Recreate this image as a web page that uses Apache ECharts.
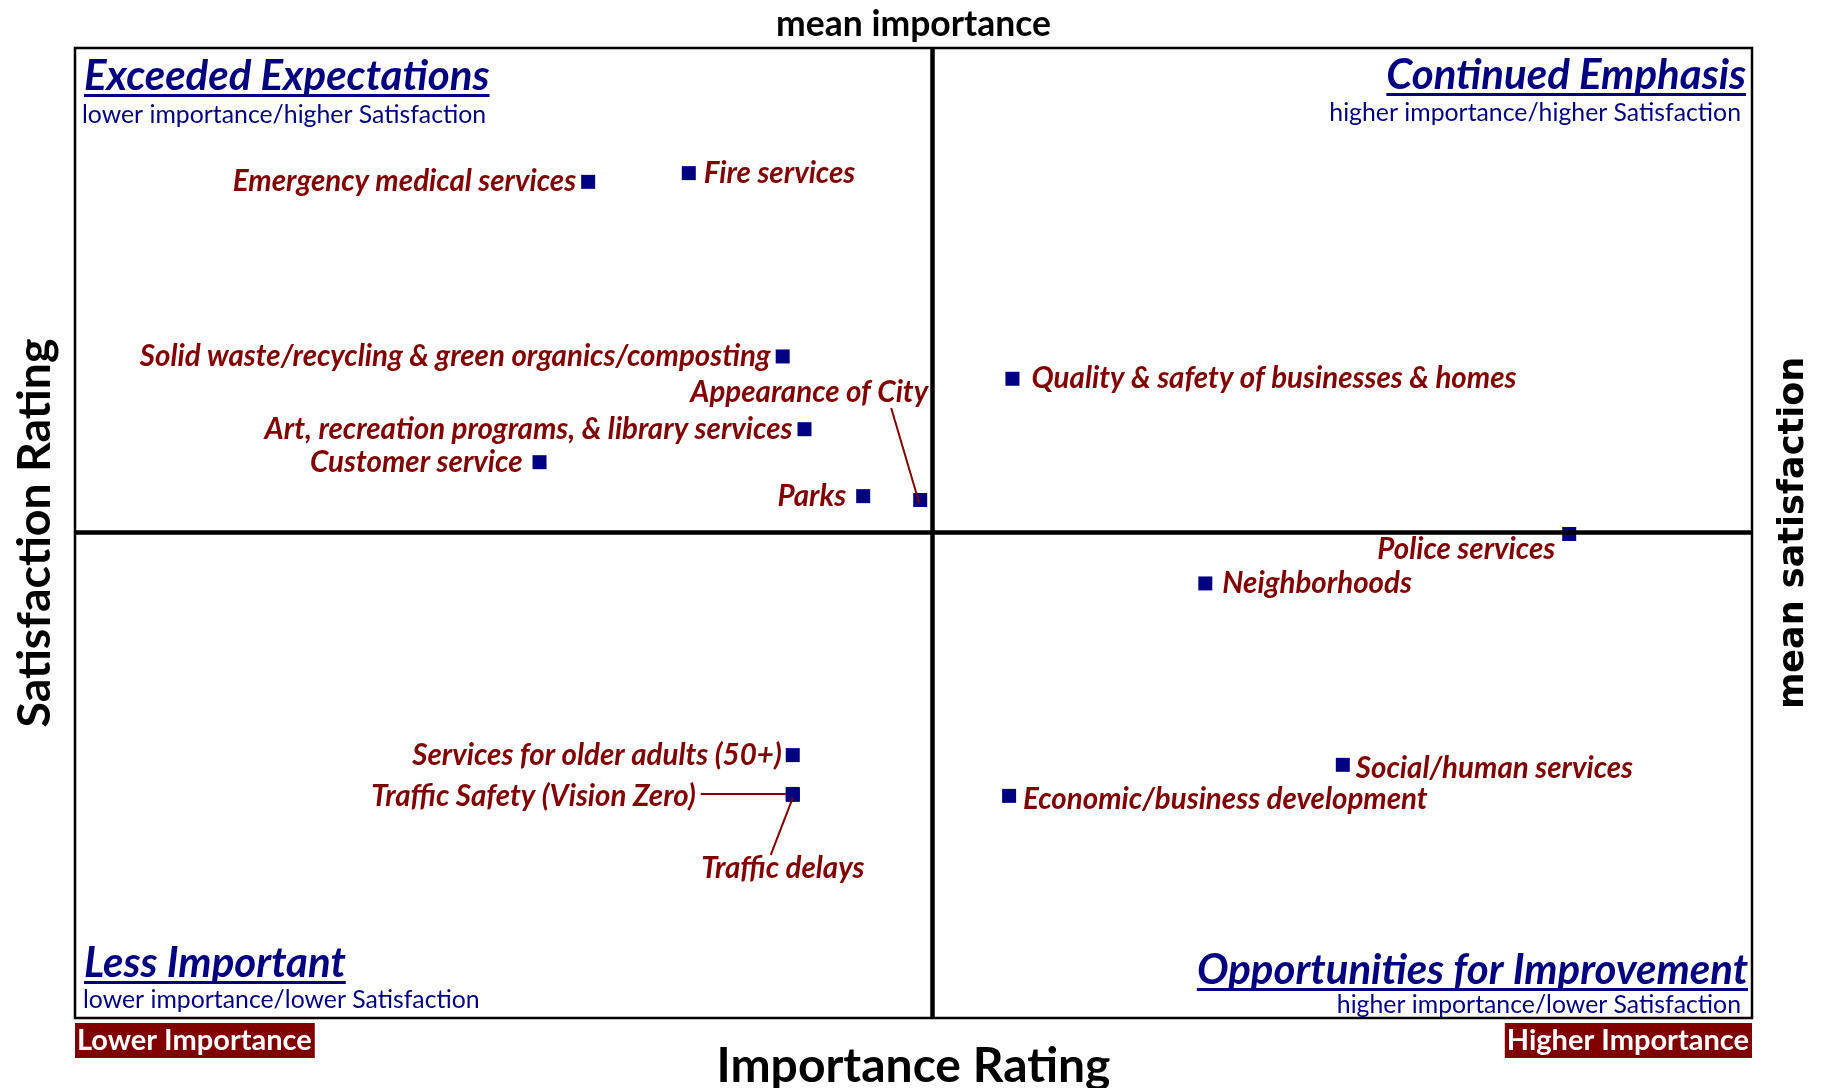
<!DOCTYPE html>
<html lang="en">
<head>
    <meta charset="utf-8">
    <title>Importance vs Satisfaction</title>
    <script src="https://cdn.jsdelivr.net/npm/echarts@6.0.0/dist/echarts.min.js"></script>
    <style>
        html, body { margin: 0; padding: 0; background: #fff; }
    </style>
</head>
<body>
<div id="main" style="width: 1830px;height:1088px;"></div>
<script type="text/javascript">
    // services (x = importance, y = satisfaction, 0-100 of the frame)
    var names = [
        'Emergency medical services',
        'Fire services',
        'Solid waste/recycling & green organics/composting',
        'Appearance of City',
        'Art, recreation programs, & library services',
        'Customer service',
        'Parks',
        'Quality & safety of businesses & homes',
        'Police services',
        'Neighborhoods',
        'Services for older adults (50+)',
        'Traffic Safety (Vision Zero)',
        'Traffic delays',
        'Social/human services',
        'Economic/business development'
    ];
    var importance   = [30.6, 36.6, 42.2, 50.4, 43.5, 27.7, 47.0, 55.9, 89.1, 67.4, 42.8, 42.8, 42.8, 75.6, 55.7];
    var satisfaction = [86.2, 87.1, 68.2, 53.4, 60.7, 57.3, 53.8, 65.9, 49.9, 44.8, 27.1, 23.1, 23.0, 26.1, 22.9];

    var meanImportance = 51.1;
    var meanSatisfaction = 50.1;

    // tick labels at the two ends of the importance axis
    var endLabels = ['Lower Importance', 'Higher Importance'];

    var quadTitles = ['Exceeded Expectations', 'Continued Emphasis', 'Less Important', 'Opportunities for Improvement'];
    var quadNotes = [
        'lower importance/higher Satisfaction',
        'higher importance/higher Satisfaction',
        'lower importance/lower Satisfaction',
        'higher importance/lower Satisfaction'
    ];

    var RED = '#800000';
    var NAVY = '#000080';

    // where each label sits around its point
    var labelSide = {
        'Emergency medical services': {position: 'left', distance: 5},
        'Fire services': {position: 'right', distance: 8},
        'Solid waste/recycling & green organics/composting': {position: 'left', distance: 5},
        'Appearance of City': {position: 'inside'},
        'Art, recreation programs, & library services': {position: 'left', distance: 5},
        'Customer service': {position: 'left', distance: 10},
        'Parks': {position: 'left', distance: 10},
        'Quality & safety of businesses & homes': {position: 'right', distance: 12},
        'Police services': {position: 'left', distance: 7},
        'Neighborhoods': {position: 'right', distance: 10},
        'Services for older adults (50+)': {position: 'left', distance: 4},
        'Traffic Safety (Vision Zero)': {position: 'left', distance: 5},
        'Traffic delays': {position: 'inside'},
        'Social/human services': {position: 'right', distance: 6},
        'Economic/business development': {position: 'right', distance: 7}
    };
    // labels nudged from their side position
    var nudge = {
        'Police services': {dx: 0, dy: 16},
        'Social/human services': {dx: 0, dy: 4},
        'Economic/business development': {dx: 0, dy: 4},
        'Appearance of City': {dx: -111, dy: -108},
        'Traffic Safety (Vision Zero)': {dx: -85, dy: 3},
        'Traffic delays': {dx: -10, dy: 74}
    };
    // leader lines, as pixel offsets from the point: [start, end]
    var leaders = {
        'Appearance of City': [[-29, -92], [-1, 3]],
        'Traffic Safety (Vision Zero)': [[-92, 0], [-7, 0]],
        'Traffic delays': [[-22, 60], [0, 3]]
    };

    var points = names.map(function (n, i) {
        return {name: n, value: [importance[i], satisfaction[i]], label: labelSide[n]};
    });

    // text widths, for the underlines
    var ctx = document.createElement('canvas').getContext('2d');
    function textWidth(txt, font) {
        ctx.font = font;
        return ctx.measureText(txt).width;
    }

    var titleFont = 'italic bold 42px Lato';
    var noteFont = '24.8px Lato';
    // [x, titleY, underlineY, noteX, noteY, align]
    var quadPlace = [
        [84, 76, 94, 82, 115, 'left'],
        [1746, 75, 93, 1741, 113, 'right'],
        [84, 963, 981, 83, 1000, 'left'],
        [1748, 970, 988, 1741, 1005, 'right']
    ];
    var graphics = [];
    quadTitles.forEach(function (t, i) {
        var p = quadPlace[i];
        var w = textWidth(t, titleFont);
        graphics.push({
            type: 'text', x: p[0], y: p[1], silent: true,
            style: {text: t, font: titleFont, fill: NAVY, align: p[5], verticalAlign: 'middle'}
        });
        graphics.push({
            type: 'rect', silent: true,
            shape: {x: p[5] === 'left' ? p[0] : p[0] - w, y: p[2], width: w, height: 3},
            style: {fill: NAVY}
        });
        graphics.push({
            type: 'text', x: p[3], y: p[4], silent: true,
            style: {text: quadNotes[i], font: noteFont, fill: NAVY, align: p[5], verticalAlign: 'middle'}
        });
    });

    var hidden = {
        axisLine: {show: false},
        axisTick: {show: false},
        splitLine: {show: false}
    };

    var myChart = echarts.init(document.getElementById('main'));
    myChart.setOption({
        animation: false,
        textStyle: {fontFamily: 'Lato'},
        grid: {
            left: 75, right: 78, top: 48, bottom: 70,
            show: true, borderColor: '#000', borderWidth: 2.5,
            outerBoundsMode: 'none'
        },
        xAxis: [{
            type: 'value', min: 0, max: 100, interval: 100,
            axisLine: hidden.axisLine, axisTick: hidden.axisTick, splitLine: hidden.splitLine,
            name: 'Importance Rating', nameLocation: 'middle', nameGap: 25, nameMoveOverlap: false,
            nameTextStyle: {fontFamily: 'Lato', fontWeight: 'bold', fontSize: 48, color: '#000'},
            axisLabel: {
                margin: 5,
                formatter: function (v) { return v === 0 ? endLabels[0] : endLabels[1]; },
                alignMinLabel: 'left', alignMaxLabel: 'right',
                color: '#fff', backgroundColor: RED, fontWeight: 'bold', fontSize: 29,
                fontFamily: 'Lato', padding: [3, 3, 3, 2]
            }
        }, {
            type: 'value', min: 0, max: 100, position: 'top',
            axisLine: hidden.axisLine, axisTick: hidden.axisTick, splitLine: hidden.splitLine,
            axisLabel: {show: false},
            name: 'mean importance', nameLocation: 'middle', nameGap: 5, nameMoveOverlap: false,
            nameTextStyle: {fontFamily: 'Lato', fontWeight: 'bold', fontSize: 35.5, color: '#000'}
        }],
        yAxis: [{
            type: 'value', min: 0, max: 100,
            axisLine: hidden.axisLine, axisTick: hidden.axisTick, splitLine: hidden.splitLine,
            axisLabel: {show: false},
            name: 'Satisfaction Rating', nameLocation: 'middle', nameGap: 17, nameMoveOverlap: false,
            nameTextStyle: {fontFamily: 'Lato', fontWeight: 'bold', fontSize: 46.5, color: '#000'}
        }, {
            type: 'value', min: 0, max: 100, position: 'right',
            axisLine: hidden.axisLine, axisTick: hidden.axisTick, splitLine: hidden.splitLine,
            axisLabel: {show: false},
            name: 'mean satisfaction', nameLocation: 'middle', nameGap: 24, nameMoveOverlap: false,
            nameTextStyle: {fontFamily: 'DejaVu Sans', fontWeight: 'bold', fontSize: 35, color: '#000'}
        }],
        graphic: graphics,
        series: [{
            type: 'scatter',
            symbol: 'rect',
            symbolSize: 14,
            itemStyle: {color: NAVY, opacity: 1},
            data: points,
            label: {
                show: true,
                formatter: '{b}',
                color: RED,
                fontFamily: 'Lato',
                fontStyle: 'italic',
                fontWeight: 'bold',
                fontSize: 29.5
            },
            labelLayout: function (p) {
                var m = nudge[names[p.dataIndex]];
                return m ? {dx: m.dx, dy: m.dy} : {};
            },
            markLine: {
                silent: true,
                symbol: 'none',
                label: {show: false},
                lineStyle: {color: '#000', width: 4.5, type: 'solid', opacity: 1},
                data: [{xAxis: meanImportance}, {yAxis: meanSatisfaction}]
            }
        }]
    });

    // leader lines start from the points as the chart places them
    names.forEach(function (n, i) {
        var l = leaders[n];
        if (!l) return;
        var c = myChart.convertToPixel({seriesIndex: 0}, [importance[i], satisfaction[i]]);
        graphics.push({
            type: 'polyline', silent: true, z: 10,
            shape: {points: [[c[0] + l[0][0], c[1] + l[0][1]], [c[0] + l[1][0], c[1] + l[1][1]]]},
            style: {stroke: RED, lineWidth: 2, fill: null}
        });
    });
    myChart.setOption({graphic: graphics});
</script>
</body>
</html>
